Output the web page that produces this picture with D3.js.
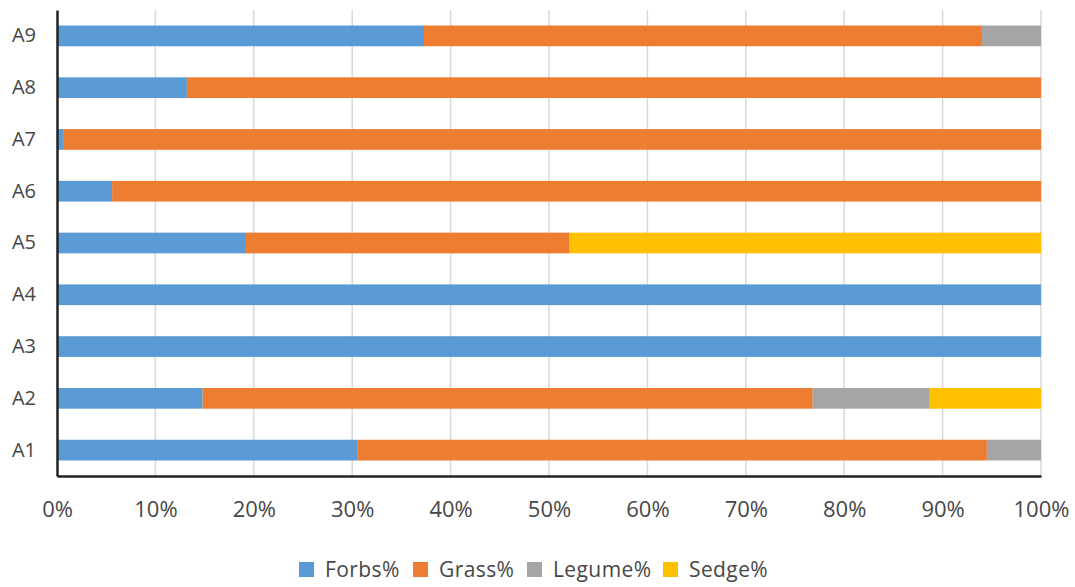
<!DOCTYPE html>
<html>
<head>
<meta charset="utf-8">
<script src="https://cdn.jsdelivr.net/npm/d3@7"></script>
<style>
  body { margin: 0; background: #fff; }
  text { font-family: "Open Sans", "Liberation Sans", sans-serif; fill: #474747; }
</style>
</head>
<body>
<div class="canvas"></div>
<script>
const categories = ['A1', 'A2', 'A3', 'A4', 'A5', 'A6', 'A7', 'A8', 'A9'];
const seriesNames = ['Forbs%', 'Grass%', 'Legume%', 'Sedge%'];
const forbs  = [30.5, 14.8, 100, 100, 19.2, 5.6, 0.7, 13.2, 37.3];
const grass  = [64.0, 62.0, 0, 0, 32.9, 94.4, 99.3, 86.8, 56.7];
const legume = [5.5, 11.9, 0, 0, 0, 0, 0, 0, 6.0];
const sedge  = [0, 11.3, 0, 0, 47.9, 0, 0, 0, 0];
const xTicks = [0, 10, 20, 30, 40, 50, 60, 70, 80, 90, 100];
const colors = ['#5B9BD5', '#ED7D31', '#A5A5A5', '#FFC000'];

const width = 1075, height = 587;
const margin = { top: 10, right: 34, bottom: 111, left: 57 };

const svg = d3.select('.canvas')
    .append('svg')
    .attr('width', width)
    .attr('height', height);

const table = categories.map((c, i) => ({
    cat: c, 'Forbs%': forbs[i], 'Grass%': grass[i], 'Legume%': legume[i], 'Sedge%': sedge[i]
}));

const x = d3.scaleLinear()
    .domain([0, 100])
    .range([margin.left, width - margin.right]);

const y = d3.scaleBand()
    .domain(categories.slice().reverse())
    .range([margin.top, height - margin.bottom])
    .paddingInner(0.6)
    .paddingOuter(0.3);

const color = d3.scaleOrdinal().domain(seriesNames).range(colors);

// gridlines
svg.append('g')
    .selectAll('line')
    .data(xTicks.slice(1))
    .enter().append('line')
        .attr('x1', d => x(d)).attr('x2', d => x(d))
        .attr('y1', margin.top).attr('y2', height - margin.bottom)
        .attr('stroke', '#d9d9d9')
        .attr('stroke-width', 1.5);

const stack = d3.stack().keys(seriesNames);

svg.append('g')
    .selectAll('g')
    .data(stack(table))
    .enter().append('g')
        .attr('fill', d => color(d.key))
    .selectAll('rect')
    .data(d => d)
    .enter().append('rect')
        .attr('x', d => x(d[0]))
        .attr('width', d => x(d[1]) - x(d[0]))
        .attr('y', d => y(d.data.cat))
        .attr('height', y.bandwidth());

// axes
const xAxis = svg.append('g')
    .attr('transform', `translate(0, ${height - margin.bottom})`)
    .call(d3.axisBottom(x).tickValues(xTicks).tickSize(0).tickFormat(d => d + '%'));
xAxis.select('.domain').attr('stroke', '#222').attr('stroke-width', 2.5);
xAxis.selectAll('text')
    .attr('dy', 0)
    .attr('y', 41)
    .style('font-size', '22px')
    .style('fill', '#474747');

const yAxis = svg.append('g')
    .attr('transform', `translate(${margin.left}, 0)`)
    .call(d3.axisLeft(y).tickSize(0));
yAxis.select('.domain').attr('stroke', '#222').attr('stroke-width', 2.5);
yAxis.selectAll('text')
    .attr('x', -21)
    .style('font-size', '20px')
    .style('fill', '#474747');

// legend
const legendX = [299, 413, 527, 663];
const legend = svg.append('g')
    .selectAll('g')
    .data(seriesNames)
    .enter().append('g')
        .attr('transform', (d, i) => `translate(${legendX[i]}, 562)`);

legend.append('rect')
    .attr('width', 15).attr('height', 15)
    .attr('fill', d => color(d));

legend.append('text')
    .attr('x', 26).attr('y', 15)
    .style('font-size', '21px')
    .style('letter-spacing', '0.4px')
    .text(d => d);
</script>
</body>
</html>
